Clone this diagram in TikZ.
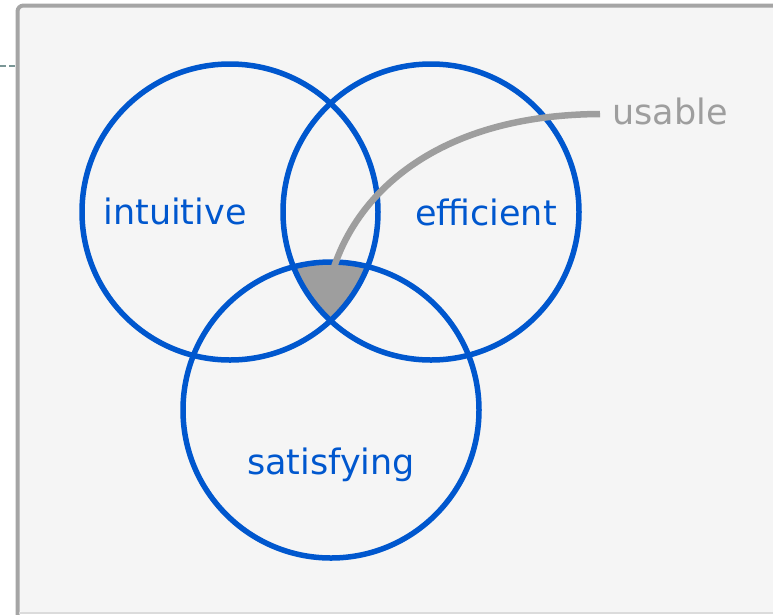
\documentclass[tikz,border=0pt]{standalone}
\usepackage{fontspec}
\setmainfont{DejaVu Sans}
\definecolor{vblue}{RGB}{0,87,206}
\definecolor{vgray}{RGB}{158,158,158}
\definecolor{bgfill}{RGB}{245,245,245}
\definecolor{frame}{RGB}{165,165,165}
\definecolor{dashc}{RGB}{122,150,150}
\tikzset{
  venn/.style={circle, draw=vblue, line width=5.5pt, minimum size=296pt, inner sep=0pt},
  vlabel/.style={text=vblue, font=\fontsize{35}{40}\selectfont, inner sep=0pt},
  ulabel/.style={text=vgray, font=\fontsize{35}{40}\selectfont, inner sep=0pt, anchor=west},
  pointer/.style={draw=vgray, line width=6.5pt}
}
\begin{document}
\begin{tikzpicture}[x=1pt,y=-1pt]
\useasboundingbox (0,0) rectangle (773,614);
% background panel
\fill[bgfill, rounded corners=5pt] (17,5) rectangle (800,612);
\draw[frame, line width=4pt, rounded corners=6pt] (17.5,640) -- (17.5,5.5) -- (800,5.5);
\draw[black!14, line width=2pt] (19,613) -- (773,613);
\coordinate (dA) at (0,66);
\coordinate (dB) at (16,66);
\draw[dashc, line width=2pt, dash pattern=on 6pt off 3pt] (dA) -- (dB);
% intersection fill
\begin{scope}
  \clip (230,212) circle (148);
  \clip (431,212) circle (148);
  \fill[vgray] (331,410) circle (148);
\end{scope}
% circles
\node[venn] (c1) at (230,212) {};
\node[venn] (c2) at (431,212) {};
\node[venn] (c3) at (331,410) {};
% labels
\node[vlabel] (l1) at (175,211) {intuitive};
\node[vlabel] (l2) at (486,212) {efficient};
\node[vlabel] (l3) at (331,465) {satisfying};
\node[ulabel] (u) at (612,111) {usable};
\coordinate (p) at (330,281);
\coordinate (q) at (600,114);
\draw[pointer] (p) .. controls (350,200) and (430,115) .. (q);
\end{tikzpicture}
\end{document}
